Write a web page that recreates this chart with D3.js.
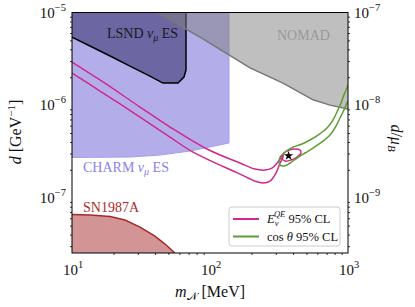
<!DOCTYPE html>
<html><head><meta charset="utf-8">
<script src="https://cdn.jsdelivr.net/npm/d3@7"></script>
<style>body{margin:0;background:#fff}svg text{font-family:"Liberation Serif",serif;fill:#111}</style>
</head><body><div id="chart"></div>
<script>
const width=415,height=307;
const margin={top:12.5,right:67,bottom:54,left:72};

// excluded regions, mass in MeV, d in GeV^-1
const lsndMass=[10,13.5,18.9,26.3,36.7,45.6,58.6,64.8,67.0,67.0];
const lsndD=[5.43e-6,4.35e-6,3.39e-6,2.64e-6,2.06e-6,1.73e-6,1.73e-6,2.01e-6,2.39e-6,1e-5];
const charmMass=[10,26.3,43.4,71.6,137.3,137.3];
const charmD=[2.72e-7,2.75e-7,2.89e-7,3.19e-7,3.90e-7,1e-5];
const nomadMass=[41.3,84.6,195,338,558,741,1000];
const nomadD=[1e-5,5.43e-6,2.52e-6,1.73e-6,1.14e-6,1.00e-6,9.08e-7];
const snMass=[10,13.5,18.9,24.2,31.1,39.9,47.2,55.7];
const snD=[6.59e-8,6.50e-8,6.26e-8,5.74e-8,4.82e-8,3.85e-8,3.16e-8,2.53e-8];

// E_nu^QE 95% CL contour
const eqeTopMass=[10,15.95,31.1,51.3,95.1,165,212,250,281,311,338];
const eqeTopD=[2.92e-6,1.87e-6,9.54e-7,5.80e-7,3.36e-7,2.37e-7,2.04e-7,1.99e-7,2.09e-7,2.43e-7,2.89e-7];
const eqeBotMass=[10,15.95,31.1,51.3,75.3,165,212,242,272,301,322,338];
const eqeBotD=[2.22e-6,1.42e-6,7.44e-7,4.52e-7,3.11e-7,1.80e-7,1.51e-7,1.44e-7,1.51e-7,1.85e-7,2.37e-7,2.75e-7];
const eqeLoopMass=[332,344,374,413,449,456,427,386,350];
const eqeLoopD=[2.68e-7,3.04e-7,3.27e-7,3.36e-7,3.27e-7,3.04e-7,2.75e-7,2.55e-7,2.49e-7];

// cos theta 95% CL contour
const cosUpMass=[316,322,350,399,464,530,606,704,778,832,890,935,983,1034];
const cosUpD=[2.43e-7,2.75e-7,3.11e-7,3.52e-7,3.80e-7,4.20e-7,4.75e-7,5.66e-7,6.90e-7,8.42e-7,1.05e-6,1.29e-6,1.53e-6,1.78e-6];
const cosLowMass=[1034,983,935,875,819,741,648,558,488,427,380,344,322,316];
const cosLowD=[1.19e-6,1.05e-6,8.85e-7,7.26e-7,5.95e-7,4.75e-7,4.00e-7,3.44e-7,3.04e-7,2.68e-7,2.37e-7,2.20e-7,2.25e-7,2.43e-7];

const bestFit={mass:371,d:2.84e-7};

const svg=d3.select("#chart").append("svg").attr("width",width).attr("height",height);
const x=d3.scaleLog().domain([10,1000]).range([margin.left,width-margin.right]);
const y=d3.scaleLog().domain([2.53e-8,1e-5]).range([height-margin.bottom,margin.top]);
const yR=d3.scaleLog().domain([2.53e-10,1e-7]).range([height-margin.bottom,margin.top]);
const [x0,x1]=x.domain(),[y0,y1]=y.domain();

svg.append("clipPath").attr("id","clip").append("rect")
    .attr("x",margin.left).attr("y",margin.top)
    .attr("width",x(x1)-x(x0)).attr("height",y(y0)-y(y1));
const plot=svg.append("g").attr("clip-path","url(#clip)");

const pts=(ms,ds)=>ms.map((m,i)=>[x(m),y(ds[i])]);
const lin=d3.line();
const smooth=d3.line().curve(d3.curveCatmullRom.alpha(0.5));
const smoothClosed=d3.line().curve(d3.curveCatmullRomClosed.alpha(0.5));

// CHARM
plot.append("path").attr("d",lin(pts(charmMass,charmD).concat([[x(x0),y(y1)]]))+"Z")
    .attr("fill","#b3aeea").attr("stroke","#a39cf0").attr("stroke-width",1);
// LSND
plot.append("path").attr("d",lin(pts(lsndMass,lsndD).concat([[x(x0),y(y1)]]))+"Z")
    .attr("fill","#6c66a3").attr("stroke","none");
plot.append("path").attr("d",lin(pts(lsndMass,lsndD)))
    .attr("fill","none").attr("stroke","#000").attr("stroke-width",1.5);
// NOMAD
plot.append("path").attr("d",lin(pts(nomadMass,nomadD).concat([[x(x1),y(y1)]]))+"Z")
    .attr("fill","#808080").attr("fill-opacity",0.5).attr("stroke","none");
plot.append("path").attr("d",lin(pts(nomadMass,nomadD)))
    .attr("fill","none").attr("stroke","#777").attr("stroke-width",1.5);
// SN1987A
plot.append("path").attr("d",lin(pts(snMass,snD).concat([[x(x0),y(y0)]]))+"Z")
    .attr("fill","#a52a2a").attr("fill-opacity",0.5).attr("stroke","none");
plot.append("path").attr("d",lin(pts(snMass,snD)))
    .attr("fill","none").attr("stroke","#a52a2a").attr("stroke-width",1.5);

// contours
const magenta="#d3278c",green="#5a9e2f";
plot.append("path").attr("d",smooth(pts(eqeTopMass,eqeTopD).concat(pts(eqeBotMass,eqeBotD).reverse())))
    .attr("fill","none").attr("stroke",magenta).attr("stroke-width",1.5);
plot.append("path").attr("d",smoothClosed(pts(eqeLoopMass,eqeLoopD)))
    .attr("fill","none").attr("stroke",magenta).attr("stroke-width",1.5);
plot.append("path").attr("d",smooth(pts(cosUpMass,cosUpD).concat(pts(cosLowMass,cosLowD))))
    .attr("fill","none").attr("stroke",green).attr("stroke-width",1.5);
plot.append("path").attr("d",d3.symbol(d3.symbolStar,28)())
    .attr("transform",`translate(${x(bestFit.mass)},${y(bestFit.d)})`).attr("fill","#000");

// region labels
function label(tx,ty,color,parts){
    const t=svg.append("text").attr("x",tx).attr("y",ty).attr("font-size",14).style("fill",color);
    parts.forEach(p=>{
        const s=t.append("tspan").text(p.t);
        if(p.sub) s.attr("font-size",10).attr("dy",3);
        if(p.back) s.attr("dy",-3);
        if(p.it) s.attr("font-style","italic");
    });
}
label(107,38,"#1a1a1a",[{t:"LSND "},{t:"ν",it:1},{t:"μ",it:1,sub:1},{t:" ES",back:1}]);
label(277,40,"#999",[{t:"NOMAD"}]);
label(83,172,"#8b82ea",[{t:"CHARM "},{t:"ν",it:1},{t:"μ",it:1,sub:1},{t:" ES",back:1}]);
label(83,212,"#b22a2a",[{t:"SN1987A"}]);

// axes
const xt=x.ticks(),yt=y.ticks(),yrt=yR.ticks();
const isMajor=v=>Math.abs(Math.log10(v)-Math.round(Math.log10(v)))<1e-6;
function drawAxis(axisFn,scale,ticks,tr){
    const g=svg.append("g").attr("transform",tr);
    g.call(axisFn(scale).tickValues(ticks.filter(isMajor)).tickSize(3.5).tickFormat(""));
    g.call(axisFn(scale).tickValues(ticks.filter(v=>!isMajor(v))).tickSize(2).tickFormat(""));
    g.selectAll(".domain").remove();
    g.selectAll("line").attr("stroke","#000").attr("stroke-width",0.8);
    return g;
}
drawAxis(d3.axisBottom,x,xt,`translate(0,${y(y0)})`);
drawAxis(d3.axisLeft,y,yt,`translate(${x(x0)},0)`);
drawAxis(d3.axisRight,yR,yrt,`translate(${x(x1)},0)`);
svg.append("rect").attr("x",x(x0)).attr("y",y(y1)).attr("width",x(x1)-x(x0)).attr("height",y(y0)-y(y1))
    .attr("fill","none").attr("stroke","#000").attr("stroke-width",1);

function powLabel(tx,ty,exp,anchor){
    const t=svg.append("text").attr("x",tx).attr("y",ty).attr("font-size",15).attr("text-anchor",anchor);
    t.append("tspan").text("10");
    t.append("tspan").text(exp).attr("font-size",10.5).attr("dy",-7);
}
xt.filter(isMajor).forEach(v=>powLabel(x(v)+1,y(y0)+22,String(Math.round(Math.log10(v))),"middle"));
yt.filter(isMajor).forEach(v=>powLabel(x(x0)-6,y(v)+5,"−"+(-Math.round(Math.log10(v))),"end"));
yrt.filter(isMajor).forEach(v=>powLabel(x(x1)+6,yR(v)+5,"−"+(-Math.round(Math.log10(v))),"start"));

// axis titles
const xl=svg.append("text").attr("x",(x(x0)+x(x1))/2).attr("y",297).attr("font-size",16).attr("text-anchor","middle");
xl.append("tspan").text("m").attr("font-style","italic");
xl.append("tspan").text("𝒩").attr("font-size",11).attr("dy",3);
xl.append("tspan").text(" [MeV]").attr("dy",-3);
const yl=svg.append("text").attr("transform","translate(21,132) rotate(-90)").attr("font-size",16).attr("text-anchor","middle");
yl.append("tspan").text("d").attr("font-style","italic");
yl.append("tspan").text(" [GeV");
yl.append("tspan").text("−1").attr("font-size",11).attr("dy",-6);
yl.append("tspan").text("]").attr("dy",6);
const rl=svg.append("text").attr("transform","translate(391,138) rotate(90)").attr("font-size",16).attr("text-anchor","middle");
rl.append("tspan").text("d").attr("font-style","italic");
rl.append("tspan").text("/");
rl.append("tspan").text("μ").attr("font-style","italic");
rl.append("tspan").text("B").attr("font-style","italic").attr("font-size",11).attr("dy",3);

// legend
const lg=svg.append("g").attr("transform","translate(229,207)");
lg.append("rect").attr("width",111).attr("height",39).attr("rx",3)
    .attr("fill","#fff").attr("fill-opacity",0.8).attr("stroke","#ccc");
const legendItems=[{color:magenta,key:"eqe"},{color:green,key:"cos"}];
legendItems.forEach((d,i)=>{
    const ly=12+i*17.5;
    lg.append("line").attr("x1",4).attr("x2",30).attr("y1",ly).attr("y2",ly)
        .attr("stroke",d.color).attr("stroke-width",2);
    const t=lg.append("text").attr("x",38).attr("y",ly+4).attr("font-size",12.5);
    if(d.key==="eqe"){
        t.append("tspan").text("E").attr("font-style","italic");
        t.append("tspan").text("ν").attr("font-style","italic").attr("font-size",8.5).attr("dy",3);
        t.append("tspan").text("QE").attr("font-style","italic").attr("font-size",8.5).attr("dx",-4.5).attr("dy",-9);
        t.append("tspan").text(" 95% CL").attr("dy",6);
    }else{
        t.append("tspan").text("cos ");
        t.append("tspan").text("θ").attr("font-style","italic");
        t.append("tspan").text(" 95% CL");
    }
});
</script></body></html>
